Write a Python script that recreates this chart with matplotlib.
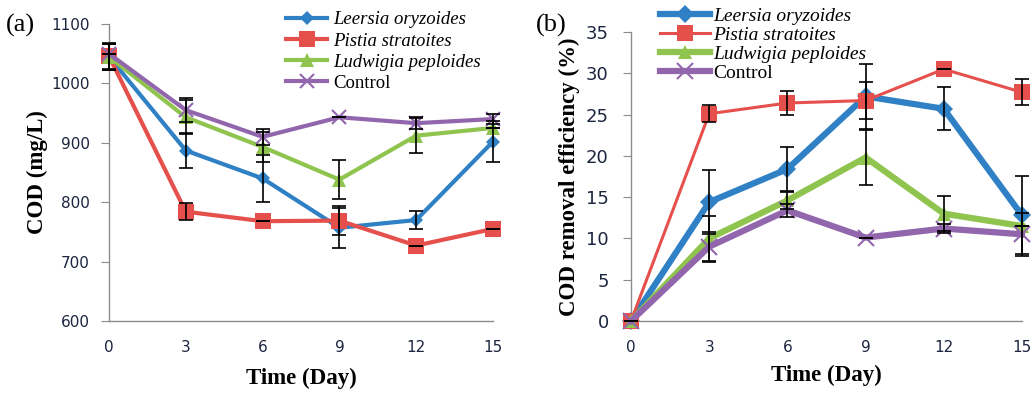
import numpy as np
import matplotlib.pyplot as plt

days = [0, 3, 6, 9, 12, 15]
series_names = ['Leersia oryzoides', 'Pistia stratoites', 'Ludwigia peploides', 'Control']

# panel (a): COD (mg/L)
cod_leersia = [1045, 887, 840, 757, 770, 902]
cod_pistia = [1046, 784, 768, 769, 727, 755]
cod_ludwigia = [1045, 943, 893, 838, 912, 925]
cod_control = [1050, 955, 910, 943, 933, 940]
cod_err_leersia = [22, 30, 40, 34, 15, 35]
cod_err_pistia = [22, 14, 0, 25, 0, 0]
cod_err_ludwigia = [22, 29, 25, 33, 30, 0]
cod_err_control = [0, 20, 14, 0, 10, 9]

# panel (b): COD removal efficiency (%)
rem_leersia = [0, 14.4, 18.4, 27.2, 25.7, 12.8]
rem_pistia = [0, 25.1, 26.4, 26.7, 30.5, 27.7]
rem_ludwigia = [0, 10.0, 14.6, 19.8, 13.0, 11.5]
rem_control = [0, 9.0, 13.4, 10.1, 11.2, 10.5]
rem_err_leersia = [0, 3.9, 2.7, 3.9, 2.6, 4.7]
rem_err_pistia = [0, 1.0, 1.4, 2.2, 0, 1.6]
rem_err_ludwigia = [0, 2.7, 1.0, 3.3, 2.1, 0]
rem_err_control = [0, 1.8, 0.8, 0, 0.5, 2.6]

colors = ['#2f80c4', '#e5504c', '#8fc44e', '#9266ad']
markers = ['D', 's', '^', 'x']

plt.rcParams['font.family'] = 'Liberation Serif'

fig = plt.figure(figsize=(10.35, 3.94), dpi=100)
ax1 = fig.add_axes([0.1053, 0.1853, 0.371, 0.7538])
ax2 = fig.add_axes([0.6097, 0.1853, 0.3777, 0.7335])

TICK_COLOR = '#1c2540'


def style_axes(ax, ysize, ypad):
    for side in ['top', 'right']:
        ax.spines[side].set_visible(False)
    for side in ['left', 'bottom']:
        ax.spines[side].set_color('#8c8c8c')
        ax.spines[side].set_linewidth(1.0)
    ax.tick_params(axis='y', direction='out', length=6, color='#8c8c8c', pad=ypad)
    ax.tick_params(axis='x', length=0, pad=14)
    for lab in ax.get_xticklabels():
        lab.set_fontfamily('DejaVu Sans')
        lab.set_fontsize(11)
        lab.set_color(TICK_COLOR)
    for lab in ax.get_yticklabels():
        lab.set_fontfamily('DejaVu Sans')
        lab.set_fontsize(ysize)
        lab.set_color(TICK_COLOR)


# ---- panel (a)
vals_a = [cod_leersia, cod_pistia, cod_ludwigia, cod_control]
errs_a = [cod_err_leersia, cod_err_pistia, cod_err_ludwigia, cod_err_control]
sizes_a = [7, 11, 10, 10]
for name, v, e, c, m, ms in zip(series_names, vals_a, errs_a, colors, markers, sizes_a):
    ax1.plot(days, v, color=c, lw=3, marker=m, ms=ms, mew=1.5 if m == 'x' else 0,
             label=name, zorder=3, clip_on=False)
    ax1.errorbar(days, v, yerr=e, fmt='none', ecolor='black', elinewidth=1.2,
                 capsize=5, capthick=1.2, zorder=4, clip_on=False)

ax1.set_xlim(0, 15)
ax1.set_ylim(600, 1100)
ax1.set_xticks(days)
ax1.set_yticks(range(600, 1101, 100))
style_axes(ax1, 11, 8)
ax1.set_xlabel('Time (Day)', fontsize=16.5, fontweight='bold', labelpad=9)
ax1.set_ylabel('COD (mg/L)', fontsize=16.5, fontweight='bold', labelpad=2)

leg1 = ax1.legend(loc='upper left', bbox_to_anchor=(0.417, 1.10), frameon=False,
                  numpoints=1, handlelength=2.2, handletextpad=0.3,
                  labelspacing=0.22, fontsize=13.5)
for t in leg1.get_texts()[:3]:
    t.set_fontstyle('italic')

fig.text(0.006, 0.935, '(a)', fontsize=19, ha='left', va='center')

# ---- panel (b)
vals_b = [rem_leersia, rem_pistia, rem_ludwigia, rem_control]
errs_b = [rem_err_leersia, rem_err_pistia, rem_err_ludwigia, rem_err_control]
lws_b = [4.5, 2.2, 4.5, 4.5]
sizes_b = [9, 11, 10, 11]
for name, v, e, c, m, lw, ms in zip(series_names, vals_b, errs_b, colors, markers, lws_b, sizes_b):
    ax2.plot(days, v, color=c, lw=lw, marker=m, ms=ms, mew=1.5 if m == 'x' else 0,
             label=name, zorder=3, clip_on=False)
    ax2.errorbar(days, v, yerr=e, fmt='none', ecolor='black', elinewidth=1.2,
                 capsize=5, capthick=1.2, zorder=4, clip_on=False)

ax2.set_xlim(0, 15)
ax2.set_ylim(0, 35)
ax2.set_xticks(days)
ax2.set_yticks(range(0, 36, 5))
style_axes(ax2, 13, 10)
ax2.set_xlabel('Time (Day)', fontsize=16.5, fontweight='bold', labelpad=7)
ax2.set_ylabel('COD removal efficiency (%)', fontsize=16.5, fontweight='bold', labelpad=4)

leg2 = ax2.legend(loc='upper left', bbox_to_anchor=(0.03, 1.145), frameon=False,
                  numpoints=1, handlelength=2.55, handletextpad=0.15,
                  labelspacing=0.07, fontsize=14)
for t in leg2.get_texts()[:3]:
    t.set_fontstyle('italic')

fig.text(0.518, 0.935, '(b)', fontsize=19, ha='left', va='center')

fig.savefig('out.png', dpi=100)
